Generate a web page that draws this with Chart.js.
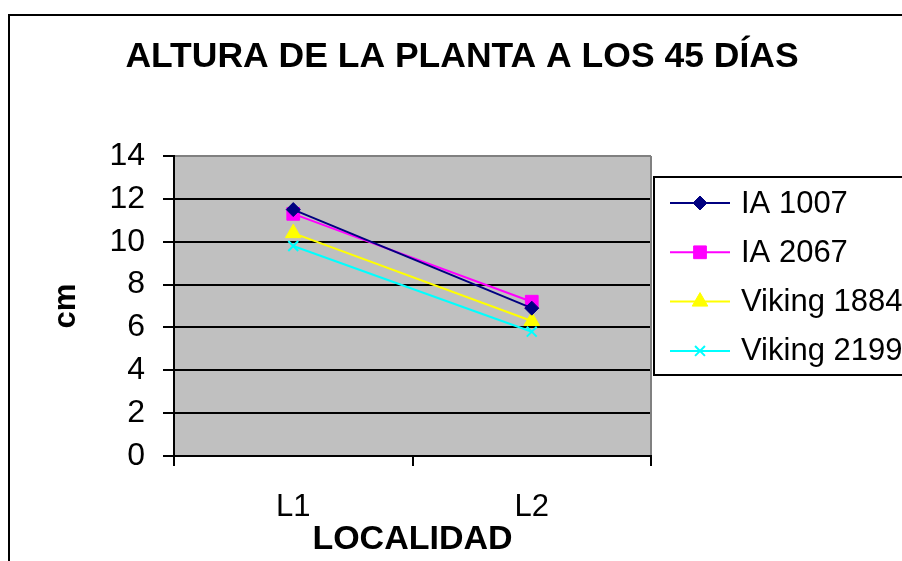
<!DOCTYPE html>
<html><head><meta charset="utf-8">
<script src="https://cdn.jsdelivr.net/npm/chart.js@4/dist/chart.umd.min.js"></script>
<style>html,body{margin:0;padding:0;background:#fff;overflow:hidden}#wrap{width:902px;height:561px;position:relative}</style>
</head><body><div id="wrap"><canvas id="c" width="902" height="561"></canvas></div>
<script>
// ---- data ----
const categories = ['L1', 'L2'];
const seriesNames = ['IA 1007', 'IA 2067', 'Viking 1884', 'Viking 2199'];
const ia1007 = [11.5, 6.9];
const ia2067 = [11.3, 7.2];
const viking1884 = [10.4, 6.3];
const viking2199 = [9.8, 5.8];
const yTicks = [0, 2, 4, 6, 8, 10, 12, 14];
const titleText = 'ALTURA DE LA PLANTA A LOS 45 DÍAS';
const xTitleText = 'LOCALIDAD';
const yTitleText = 'cm';

// ---- styles ----
const FONT = '"Liberation Sans", Arial, Helvetica, sans-serif';
const seriesData = [ia1007, ia2067, viking1884, viking2199];
const seriesStyle = [
  {color: '#000080', pointStyle: 'rectRot', radius: 7},
  {color: '#FF00FF', pointStyle: 'rect', radius: 9},
  {color: '#FFFF00', pointStyle: 'triangle', radius: 9},
  {color: '#00FFFF', pointStyle: 'crossRot', radius: 7}
];

const datasets = seriesNames.map((name, i) => ({
  label: name,
  data: seriesData[i],
  borderColor: seriesStyle[i].color,
  backgroundColor: seriesStyle[i].color,
  borderWidth: 2,
  pointStyle: seriesStyle[i].pointStyle,
  pointRadius: seriesStyle[i].radius,
  pointHoverRadius: seriesStyle[i].radius,
  pointBorderWidth: seriesStyle[i].pointStyle === 'crossRot' ? 2 : 1,
  pointBorderColor: seriesStyle[i].color,
  pointBackgroundColor: seriesStyle[i].color,
  tension: 0,
  fill: false
}));

function drawMarker(ctx, style, x, y) {
  ctx.save();
  ctx.fillStyle = style.color;
  ctx.strokeStyle = style.color;
  ctx.lineWidth = style.pointStyle === 'crossRot' ? 2 : 1;
  if (Chart.helpers && Chart.helpers.drawPoint) {
    Chart.helpers.drawPoint(ctx, {pointStyle: style.pointStyle, radius: style.radius, borderWidth: ctx.lineWidth, rotation: 0}, x, y);
  }
  ctx.restore();
}

const deco = {
  id: 'deco',
  beforeDraw(chart) {
    const ctx = chart.ctx, a = chart.chartArea;
    ctx.save();
    ctx.fillStyle = '#ffffff';
    ctx.fillRect(0, 0, chart.width, chart.height);
    ctx.fillStyle = '#C0C0C0';
    ctx.fillRect(a.left, a.top, a.right - a.left, a.bottom - a.top);
    ctx.restore();
  },
  afterDraw(chart) {
    const ctx = chart.ctx, a = chart.chartArea;
    ctx.save();
    // outer chart border
    ctx.strokeStyle = '#000';
    ctx.lineWidth = 2;
    ctx.strokeRect(9, 15, 1000, 1000);
    // plot right edge
    ctx.strokeStyle = '#808080';
    ctx.beginPath();
    ctx.moveTo(a.right, a.top);
    ctx.lineTo(a.right, a.bottom - 1);
    ctx.stroke();
    // legend
    const lx = 654, ly = 177, lh = 198;
    ctx.fillStyle = '#fff';
    ctx.fillRect(lx, ly, 400, lh);
    ctx.strokeStyle = '#000';
    ctx.lineWidth = 2;
    ctx.strokeRect(lx, ly, 400, lh);
    ctx.font = '31px ' + FONT;
    ctx.textBaseline = 'middle';
    ctx.textAlign = 'left';
    chart.data.datasets.forEach((ds, i) => {
      const y = 203 + i * 49.3;
      ctx.strokeStyle = ds.borderColor;
      ctx.lineWidth = 2;
      ctx.beginPath();
      ctx.moveTo(670, y);
      ctx.lineTo(730, y);
      ctx.stroke();
      drawMarker(ctx, seriesStyle[i], 700, y);
      ctx.fillStyle = '#000';
      ctx.fillText(ds.label, 741, y + 1);
    });
    ctx.restore();
  }
};

new Chart(document.getElementById('c'), {
  type: 'line',
  data: {labels: categories, datasets},
  plugins: [deco],
  options: {
    responsive: false,
    animation: false,
    devicePixelRatio: 1,
    layout: {padding: {left: 22, right: 0, top: 0, bottom: 0}},
    plugins: {
      legend: {display: false},
      tooltip: {enabled: false},
      title: {
        display: true,
        text: titleText,
        color: '#000',
        font: {family: FONT, size: 35.5, weight: 'bold', lineHeight: 1.2},
        padding: {top: 36, bottom: 77.4}
      }
    },
    scales: {
      x: {
        type: 'category',
        offset: true,
        grid: {display: true, drawOnChartArea: false, offset: true, color: '#000', lineWidth: 2, tickLength: 10},
        border: {display: true, color: '#000', width: 2},
        ticks: {color: '#000', padding: 23, font: {family: FONT, size: 31}, maxRotation: 0, autoSkip: false},
        title: {display: true, text: xTitleText, color: '#000', font: {family: FONT, size: 34, weight: 'bold', lineHeight: 1.2}, padding: {top: 0, bottom: 1}},
        afterFit(s) { s.height = 105; }
      },
      y: {
        min: 0, max: 14,
        afterBuildTicks(s) { s.ticks = yTicks.map(v => ({value: v})); },
        grid: {color: (c) => (c.tick && c.tick.value === 14) ? '#808080' : '#000', tickColor: '#000', lineWidth: 2, tickLength: 11},
        border: {display: true, color: '#000', width: 2},
        ticks: {color: '#000', padding: 18, font: {family: FONT, size: 32}},
        title: {display: true, text: yTitleText, color: '#000', font: {family: FONT, size: 31, weight: 'bold', lineHeight: 1.2}, padding: {top: 26, bottom: 0}},
        afterFit(s) { s.width = 152; }
      },
      yRight: {
        position: 'right',
        display: true,
        grid: {display: false, drawTicks: false},
        border: {display: false},
        ticks: {display: false},
        afterFit(s) { s.width = 251; }
      }
    }
  }
});
</script>
</body></html>
